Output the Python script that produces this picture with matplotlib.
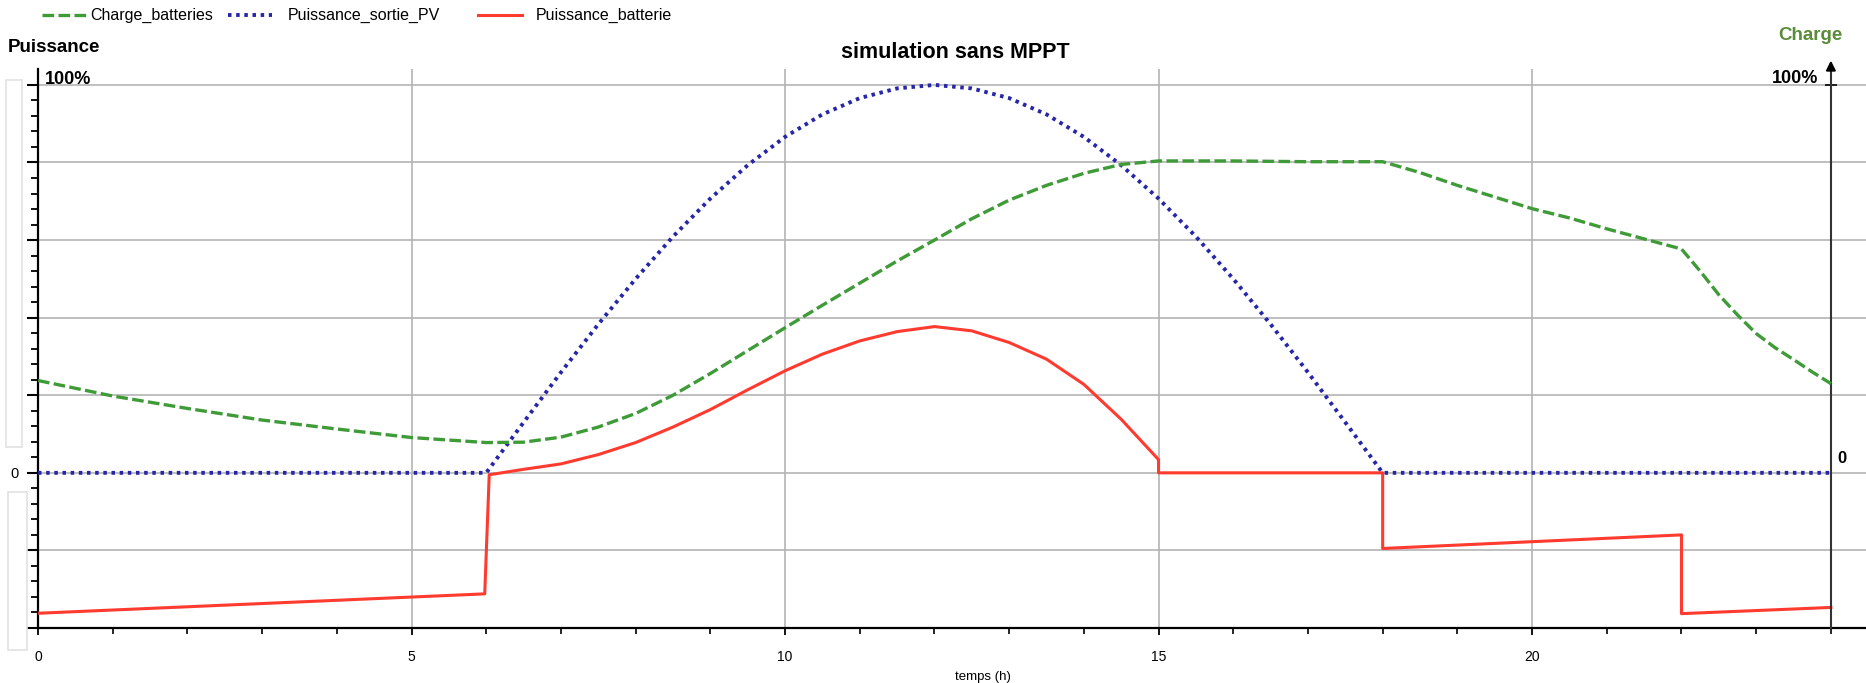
import numpy as np
import matplotlib
matplotlib.use("Agg")
import matplotlib.pyplot as plt
from matplotlib.lines import Line2D
from matplotlib.patches import Rectangle

plt.rcParams['font.family'] = ['Liberation Sans', 'DejaVu Sans']

# Charge des batteries (% , axe de droite)
t_charge = [0, 1, 2, 3, 4, 5, 6, 6.5, 7, 7.5, 8, 8.5, 9, 9.5, 10, 10.5, 11, 11.5,
            12, 12.5, 13, 13.5, 14, 14.5, 15, 16, 17, 18, 18.5, 19, 19.5, 20,
            20.5, 21, 21.5, 22, 22.25, 22.5, 22.75, 23, 23.25, 23.5, 23.75, 24]
charge = [23.8, 19.8, 16.6, 13.6, 11.3, 9.1, 7.8, 7.9, 9.2, 11.8, 15.3, 20.0, 25.6,
          31.5, 37.4, 43.2, 48.9, 54.6, 60.0, 65.5, 70.3, 74.1, 77.2, 79.5, 80.4,
          80.4, 80.2, 80.2, 77.4, 74.1, 71.1, 68.1, 65.7, 62.9, 60.3, 57.7, 52.0,
          45.9, 40.7, 35.9, 32.3, 29.2, 26.0, 23.0]

# Puissance en sortie du PV (% , axe de gauche)
t_pv = [0, 6, 6.5, 7, 7.5, 8, 8.5, 9, 9.5, 10, 10.5, 11, 11.5, 12, 12.5, 13,
        13.5, 14, 14.5, 15, 15.5, 16, 16.5, 17, 17.5, 18, 24]
pv = [0, 0, 13.0, 25.9, 38.3, 50.0, 60.9, 70.7, 79.3, 86.6, 92.4, 96.6, 99.1,
      100, 99.1, 96.6, 92.4, 86.6, 79.3, 70.7, 60.9, 50.0, 38.3, 25.9, 13.0, 0, 0]

# Puissance batterie (% , axe de gauche)
t_bat = [0, 5.98, 6.04, 6.5, 7, 7.5, 8, 8.5, 9, 9.5, 10, 10.5, 11, 11.5, 12,
         12.5, 13, 13.5, 14, 14.5, 14.75, 15, 15, 18, 18, 22, 22, 24]
p_bat = [-36.2, -31.2, -0.5, 0.9, 2.3, 4.7, 7.8, 11.8, 16.3, 21.4, 26.3, 30.6,
         34.0, 36.4, 37.7, 36.6, 33.6, 29.3, 22.8, 13.8, 8.6, 3.4, 0, 0, -19.5,
         -16.0, -36.3, -34.7]

noms = ['Charge_batteries', 'Puissance_sortie_PV', 'Puissance_batterie']
couleurs = ['#3f9b37', '#2626a8', '#ff3b30']
styles = [(0, (3.5, 1.3)), (0, (0.9, 1.2)), '-']
epaisseurs = [2.4, 2.8, 2.2]

W, H = 1866, 683
fig = plt.figure(figsize=(W / 100, H / 100), dpi=100)
ax = fig.add_axes([38 / W, 55 / H, 1 - 38 / W, (628 - 69) / H])

ymin, ymax = -40, 104.1
ax.set_xlim(0, 24.47)
ax.set_ylim(ymin, ymax)

ax.plot(t_pv, pv, color=couleurs[1], lw=epaisseurs[1], linestyle=styles[1], zorder=3)
ax.plot(t_bat, p_bat, color=couleurs[2], lw=epaisseurs[2], linestyle=styles[2],
        zorder=4)

# axe de droite : charge
ax2 = ax.twinx()
ax2.set_ylim(ymin, ymax)
ax2.plot(t_charge, charge, color=couleurs[0], lw=epaisseurs[0], linestyle=styles[0],
         zorder=3)
for s in ['left', 'top', 'bottom']:
    ax2.spines[s].set_visible(False)
ax2.spines['right'].set_position(('data', 24))
ax2.spines['right'].set_linewidth(1.5)
ax2.spines['right'].set_color('#333333')
ax2.set_yticks([100])
ax2.set_yticklabels([''])
ax2.tick_params(axis='y', direction='inout', length=8, width=1.2)
ax2.annotate('', xy=(24, 107), xytext=(24, 103), xycoords='data',
             arrowprops=dict(arrowstyle='-|>', color='black', lw=1.5,
                             mutation_scale=14),
             annotation_clip=False)

# grille et axes
for s in ['top', 'right']:
    ax.spines[s].set_visible(False)
ax.spines['left'].set_linewidth(1.6)
ax.spines['bottom'].set_linewidth(1.6)

ax.set_yticks(np.arange(-40, 101, 20))
ax.set_yticks(np.arange(-40, 101, 4), minor=True)
ax.set_yticklabels(['', '', '0', '', '', '', '', ''])
ax.tick_params(axis='y', which='major', direction='out', length=8, width=1.5,
               pad=6, labelsize=10.5)
ax.tick_params(axis='y', which='minor', direction='out', length=5, width=1.3)

ax.set_xticks([0, 5, 10, 15, 20])
ax.set_xticks(np.arange(0, 25, 1), minor=True)
ax.tick_params(axis='x', which='major', direction='out', length=5, width=1.3,
               pad=11, labelsize=10)
ax.tick_params(axis='x', which='minor', direction='out', length=4, width=1.2)

ax.grid(True, which='major', color='#b4b4b4', lw=1.2)
ax.set_axisbelow(True)

# textes
ax.text(0.09, 101.3, '100%', fontsize=13, fontweight='bold', ha='left', va='center')
ax.text(23.83, 101.6, '100%', fontsize=13, fontweight='bold', ha='right', va='center')
ax.text(24.09, 3.6, '0', fontsize=12, fontweight='bold', ha='left', va='center')

fig.text(955 / W, 1 - 53 / H, 'simulation sans MPPT', fontsize=15.5,
         fontweight='bold', ha='center', va='center')
fig.text(8 / W, 1 - 47 / H, 'Puissance', fontsize=13.5, fontweight='bold',
         ha='left', va='center')
fig.text(1810 / W, 1 - 36 / H, 'Charge', fontsize=13.5, fontweight='bold',
         color='#5b8c3a', ha='center', va='center')
fig.text(983 / W, 1 - 677 / H, 'temps (h)', fontsize=9.5, ha='center', va='center')

# légende en haut
debut_ligne = [42, 228, 478]
debut_texte = [90, 288, 536]
yl = 1 - 15 / H
for i, nom in enumerate(noms):
    x0, xt = debut_ligne[i], debut_texte[i]
    fig.add_artist(Line2D([x0 / W, (x0 + 44) / W], [yl, yl],
                          color=couleurs[i], lw=epaisseurs[i], linestyle=styles[i]))
    fig.text(xt / W, yl, nom, fontsize=11.5, ha='left', va='center')

# petits cadres gris à gauche
fig.add_artist(Rectangle((6 / W, 1 - 447 / H), 16 / W, 367 / H,
                         transform=fig.transFigure, fill=False,
                         edgecolor='#e2e2e2', lw=1.2))
fig.add_artist(Rectangle((8 / W, 1 - 650 / H), 19 / W, 158 / H,
                         transform=fig.transFigure, fill=False,
                         edgecolor='#e2e2e2', lw=1.2))

fig.savefig('out.png', dpi=100)
